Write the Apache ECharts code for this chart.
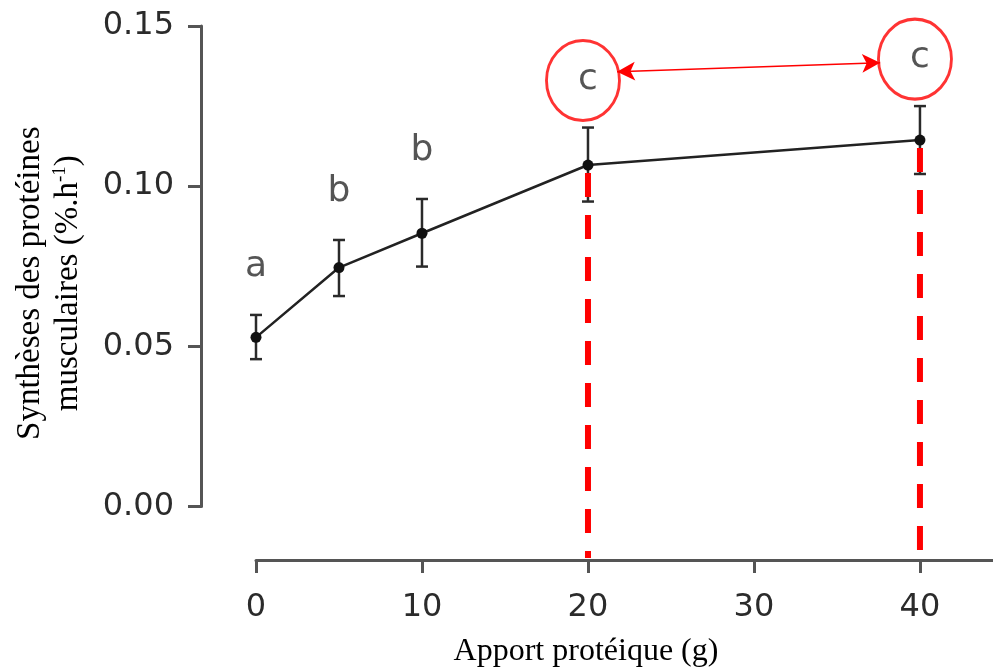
<!DOCTYPE html>
<html>
<head>
<meta charset="utf-8">
<script src="https://cdn.jsdelivr.net/npm/echarts@6/dist/echarts.min.js"></script>
<style>
  html, body { margin: 0; padding: 0; background: #fff; }
  #chart { width: 993px; height: 668px; }
</style>
</head>
<body>
<div id="chart"></div>
<script>
// ---- data ----
const doses    = [0, 5, 10, 20, 40];                       // Apport protéique (g)
const means    = [0.0528, 0.0746, 0.0853, 0.1066, 0.1144]; // synthèse (%.h-1)
const errLow   = [0.0460, 0.0657, 0.0749, 0.0952, 0.1038];
const errHigh  = [0.0598, 0.0832, 0.0960, 0.1183, 0.1250];
const letters  = ['a', 'b', 'b', 'c', 'c'];
const xTicks   = [0, 10, 20, 30, 40];
const highlighted = [20, 40];            // doses marked with red dashed lines / circles
const dropFloor = -0.0161;               // dashed lines run down to the offset x-axis
const arrowFrom = [21.75, 0.1357];       // double arrow between circled letters
const arrowTo   = [37.6, 0.1385];

const chart = echarts.init(document.getElementById('chart'), null, { renderer: 'canvas' });

const axisColor = '#555';
const labelFont = 'DejaVu Sans, Verdana, sans-serif';
const serif = 'Liberation Serif, Times New Roman, serif';

const mainData = doses.map((d, i) => [d, means[i]]);
const errData = doses.map((d, i) => [d, errLow[i], errHigh[i]]);
const letterData = doses.map((d, i) => ({ value: [d, errHigh[i]], name: letters[i] }));
const circleData = doses.map((d, i) => [d, errHigh[i]]).filter(p => highlighted.includes(p[0]));

const dropSeries = highlighted.map(d => {
  const i = doses.indexOf(d);
  return {
    type: 'line',
    data: [[d, means[i]], [d, dropFloor]],
    clip: false,
    symbol: 'none',
    z: 3,
    lineStyle: { color: '#ff0000', width: 6, type: [24, 18], dashOffset: 34 },
    silent: true
  };
});

const option = {
  animation: false,
  grid: { left: 256, right: 0, top: 26, bottom: 161.5, containLabel: false, outerBoundsMode: 'none' },
  xAxis: {
    type: 'value',
    min: 0,
    max: 44.4,
    offset: 53.5,
    splitLine: { show: false },
    axisLine: { show: true, onZero: false, lineStyle: { color: axisColor, width: 3 } },
    axisTick: { show: true, length: 13, lineStyle: { color: axisColor, width: 3 }, customValues: xTicks },
    axisLabel: { customValues: xTicks, margin: 32, fontSize: 32, fontFamily: labelFont, color: '#2b2b2b' },
    name: 'Apport protéique (g)',
    nameLocation: 'middle',
    nameGap: 76,
    nameTextStyle: { fontFamily: serif, fontSize: 32, color: '#000', padding: [0, 77, 0, 0] }
  },
  yAxis: {
    type: 'value',
    min: 0,
    max: 0.15,
    interval: 0.05,
    offset: 55,
    splitLine: { show: false },
    axisLine: { show: true, onZero: false, lineStyle: { color: axisColor, width: 3 } },
    axisTick: { show: true, length: 13, lineStyle: { color: axisColor, width: 3 } },
    axisLabel: {
      margin: 27, fontSize: 32, fontFamily: labelFont, color: '#2b2b2b',
      formatter: v => v.toFixed(2)
    },
    name: '{t|Synthèses des protéines}\n{t|musculaires (%.h}{s|-1}{t|)}',
    nameLocation: 'middle',
    nameRotate: 90,
    nameGap: 114,
    nameTextStyle: {
      padding: [0, 34, 0, 0],
      rich: {
        t: { fontFamily: serif, fontSize: 33, color: '#000', lineHeight: 38 },
        s: { fontFamily: serif, fontSize: 19, color: '#000', lineHeight: 38, padding: [0, 0, 16, 0] }
      }
    }
  },
  series: [
    {
      type: 'custom',
      z: 2,
      data: errData,
      renderItem: function (params, api) {
        const x = api.value(0);
        const lo = api.coord([x, api.value(1)]);
        const hi = api.coord([x, api.value(2)]);
        const hw = 6;
        const st = { stroke: '#2a2a2a', lineWidth: 2.5 };
        return {
          type: 'group',
          children: [
            { type: 'line', shape: { x1: hi[0], y1: hi[1], x2: lo[0], y2: lo[1] }, style: st },
            { type: 'line', shape: { x1: hi[0] - hw, y1: hi[1], x2: hi[0] + hw, y2: hi[1] }, style: st },
            { type: 'line', shape: { x1: lo[0] - hw, y1: lo[1], x2: lo[0] + hw, y2: lo[1] }, style: st }
          ]
        };
      },
      silent: true
    },
    ...dropSeries,
    {
      type: 'line',
      data: mainData,
      z: 4,
      symbol: 'circle',
      symbolSize: 11,
      itemStyle: { color: '#111' },
      lineStyle: { color: '#222', width: 2.5 },
      silent: true
    },
    {
      type: 'scatter',
      data: letterData,
      symbolSize: 0,
      z: 5,
      label: {
        show: true,
        position: 'top',
        distance: 30,
        formatter: p => p.name,
        fontFamily: labelFont,
        fontSize: 36,
        color: '#2b2b2b'
      },
      silent: true
    },
    {
      type: 'scatter',
      data: circleData,
      symbol: 'circle',
      symbolSize: [73, 80],
      symbolOffset: [-5, -47],
      z: 6,
      itemStyle: { color: 'rgba(0,0,0,0)', borderColor: '#ff0000', borderWidth: 3 },
      silent: true,
      markLine: {
        silent: true,
        symbol: ['arrow', 'arrow'],
        symbolSize: [14, 18],
        label: { show: false },
        lineStyle: { color: '#ff0000', width: 1.5, type: 'solid' },
        data: [[{ coord: arrowFrom }, { coord: arrowTo }]]
      }
    }
  ]
};

chart.setOption(option);
</script>
</body>
</html>
